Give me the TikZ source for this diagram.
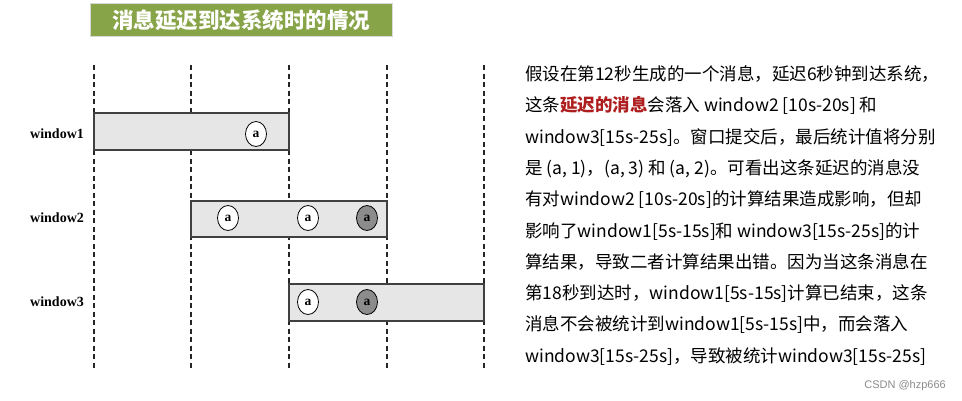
\documentclass[tikz,border=0pt]{standalone}
\usepackage{fontspec}
\setmainfont{Liberation Serif}
\newfontfamily\cjk{Noto Sans CJK SC}
\usetikzlibrary{shapes.geometric}
\definecolor{titlegreen}{RGB}{136,164,72}
\definecolor{boxgray}{RGB}{230,230,230}
\definecolor{dotgray}{RGB}{140,140,140}
\definecolor{delayred}{RGB}{175,30,30}
\tikzset{
  timeline/.style={draw=black!85, line width=1.3pt, dash pattern=on 5pt off 3.5pt},
  winbox/.style={draw=black!75, line width=1.3pt, fill=boxgray},
  winlabel/.style={font=\fontsize{14}{15}\selectfont\bfseries, anchor=west, inner sep=0pt},
  msg/.style={ellipse, draw=black, line width=0.8pt, fill=white, minimum width=21pt, minimum height=25pt, inner sep=0pt, font=\fontsize{13.5}{13.5}\selectfont\bfseries},
  lostmsg/.style={msg, fill=dotgray},
  txt/.style={anchor=base west, inner sep=0pt, font=\cjk\fontsize{17.5}{20}\selectfont},
}
\begin{document}
\begin{tikzpicture}[x=1pt, y=-1pt]
\useasboundingbox (0,0) rectangle (962,400);
\fill[white] (0,0) rectangle (962,400);
% title
\node[draw=black!15, line width=0.6pt, fill=titlegreen, minimum width=302pt, minimum height=33pt, inner sep=0pt,
      text=white, font=\cjk\fontsize{21.5}{24}\selectfont\bfseries] (title) at (241,20) {消息延迟到达系统时的情况};
% time lines
\foreach \i/\x in {1/94, 2/191, 3/289, 4/387, 5/484} {
  \coordinate (t\i top) at (\x,65);
  \coordinate (t\i bot) at (\x,368);
  \draw[timeline] (t\i top) -- (t\i bot);
}
% windows
\draw[winbox] (94,113) rectangle (289,150);
\draw[winbox] (191,201) rectangle (387,237);
\draw[winbox] (289,284) rectangle (484,321);
\node[winlabel] (w1) at (30,134) {window1};
\node[winlabel] (w2) at (30,218) {window2};
\node[winlabel] (w3) at (30,302) {window3};
% messages
\node[msg] (m11) at (256,134) {a};
\node[msg] (m21) at (228,218) {a};
\node[msg] (m22) at (308,218) {a};
\node[lostmsg] (m23) at (367,218) {a};
\node[msg] (m31) at (308,302) {a};
\node[lostmsg] (m32) at (367,302) {a};
% explanation text
\node[txt] (l1) at (525,80.5) {假设在第12秒生成的一个消息，延迟6秒钟到达系统，};
\node[txt] (l2) at (525,111.8) {这条{\bfseries\color{delayred}延迟的消息}会落入 window2 [10s-20s] 和};
\node[txt] (l3) at (525,143.1) {window3[15s-25s]。窗口提交后，最后统计值将分别};
\node[txt] (l4) at (525,174.4) {是 (a, 1)，(a, 3) 和 (a, 2)。可看出这条延迟的消息没};
\node[txt] (l5) at (525,205.7) {有对window2 [10s-20s]的计算结果造成影响，但却};
\node[txt] (l6) at (525,237.0) {影响了window1[5s-15s]和 window3[15s-25s]的计};
\node[txt] (l7) at (525,268.3) {算结果，导致二者计算结果出错。因为当这条消息在};
\node[txt] (l8) at (525,299.6) {第18秒到达时，window1[5s-15s]计算已结束，这条};
\node[txt] (l9) at (525,330.9) {消息不会被统计到window1[5s-15s]中，而会落入};
\node[txt] (l10) at (525,362.2) {window3[15s-25s]，导致被统计window3[15s-25s]};
% watermark
\node[anchor=east, inner sep=0pt, text=black!45, font=\fontspec{Liberation Sans}\fontsize{11}{12}\selectfont] (wm) at (946,386) {CSDN @hzp666};
\end{tikzpicture}
\end{document}
